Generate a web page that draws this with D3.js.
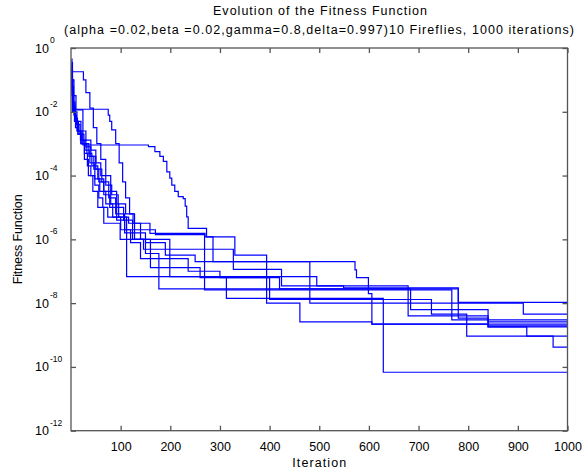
<!DOCTYPE html>
<html><head><meta charset="utf-8">
<script src="https://cdn.jsdelivr.net/npm/d3@7"></script>
<style>
body{margin:0;background:#fff}
text{font-family:"Liberation Sans",Arial,sans-serif;fill:#000}
</style>
</head><body>
<svg id="c" width="582" height="475"></svg>
<script>
// ---- data (iteration, fitness value) ----
const titleLines = ["Evolution of the Fitness Function",
  "(alpha =0.02,beta =0.02,gamma=0.8,delta=0.997)10 Fireflies, 1000 iterations)"];
const xLabel = "Iteration";
const yLabel = "Fitness Function";
const xTicks = [100,200,300,400,500,600,700,800,900,1000];
const yTickExps = [0,-2,-4,-6,-8,-10,-12];

const run1 = [[1,0.35],[3,0.1],[6,3.2e-2],[10,1.15e-2],[24,9.1e-4],[156,8.1e-4],[169,5.6e-4],[179,4.0e-4],[186,2.8e-4],[193,1.3e-4],[199,8.3e-5],[203,5.0e-5],[209,3.2e-5],[216,2.2e-5],[226,1.9e-5],[230,1.1e-5],[233,5.1e-6],[236,2.2e-6],[273,1.2e-6],[330,3.2e-7],[394,1.0e-8],[461,2.6e-9],[606,2.2e-9],[1000,2.2e-9]];
const run2 = [[1,0.13],[3,1.2e-2],[75,7.9e-3],[78,5.0e-3],[82,2.7e-3],[90,1.0e-3],[97,2.5e-4],[104,6.3e-5],[110,2.0e-5],[118,6.3e-6],[128,2.0e-6],[140,1.0e-6],[150,3.6e-7],[177,2.8e-8],[780,1.05e-8],[1000,1.05e-8]];
const run3 = [[1,0.25],[2,6.3e-2],[5,1.0e-2],[9,3.2e-3],[14,2.0e-3],[20,1.0e-3],[27,5.0e-4],[33,2.0e-4],[40,1.0e-4],[48,5.0e-5],[56,2.0e-5],[64,1.0e-5],[74,5.0e-6],[112,6.8e-8],[313,1.4e-8],[629,6.8e-11],[1000,6.8e-11]];
const run4 = [[1,0.1],[2,3.2e-2],[6,1.0e-2],[12,5.0e-3],[20,2.5e-3],[30,1.3e-3],[40,6.3e-4],[50,2.5e-4],[60,1.0e-4],[70,5.0e-5],[82,2.5e-5],[95,1.3e-5],[110,6.3e-6],[125,3.2e-6],[159,1.55e-6],[270,1.2e-6],[286,2.0e-7],[572,1.1e-7],[575,6.3e-8],[599,2.0e-8],[606,2.2e-9],[840,1.95e-9],[1000,1.95e-9]];
const run5 = [[1,0.45],[2,0.1],[4,2.0e-2],[8,6.3e-3],[13,2.5e-3],[20,1.0e-3],[27,3.2e-4],[35,1.0e-4],[44,3.2e-5],[54,1.0e-5],[66,3.2e-6],[99,1.0e-6],[199,6.8e-8],[495,3.5e-8],[549,3.0e-8],[780,3.4e-9],[840,1.8e-9],[1000,1.8e-9]];
const run6 = [[1,6.3e-2],[3,2.0e-2],[6,7.9e-3],[11,4.0e-3],[18,2.0e-3],[26,1.0e-3],[36,4.0e-4],[46,1.6e-4],[56,6.3e-5],[66,2.5e-5],[78,1.0e-5],[92,4.0e-6],[108,1.6e-6],[150,7.9e-7],[190,3.2e-7],[250,2.0e-7],[481,1.0e-8],[911,4.5e-9],[1000,4.5e-9]];
const run7 = [[1,0.16],[2,4.0e-2],[5,1.3e-2],[9,5.0e-3],[15,2.5e-3],[22,1.3e-3],[30,7.9e-4],[40,4.0e-4],[50,1.6e-4],[62,6.3e-5],[76,2.0e-5],[90,6.3e-6],[108,2.0e-6],[128,1.0e-6],[146,4.9e-7],[327,1.15e-7],[424,3.5e-8],[679,4.0e-9],[840,2.6e-9],[1000,2.6e-9]];
const run8 = [[1,0.32],[2,5.0e-2],[4,1.6e-2],[8,5.0e-3],[14,2.0e-3],[22,1.0e-3],[32,5.0e-4],[42,2.0e-4],[54,7.9e-5],[66,3.2e-5],[80,1.3e-5],[96,5.0e-6],[116,3.2e-6],[140,2.0e-6],[170,1.4e-6],[269,2.6e-8],[767,3.0e-9],[1000,3.0e-9]];
const run9 = [[1,3.2e-2],[3,1.0e-2],[7,5.0e-3],[12,2.5e-3],[19,1.3e-3],[28,6.3e-4],[38,2.5e-4],[48,7.9e-5],[58,3.2e-5],[70,1.3e-5],[84,5.0e-6],[100,2.0e-6],[120,7.9e-7],[140,2.5e-7],[236,1.0e-7],[300,6.3e-8],[400,1.3e-8],[726,4.5e-9],[797,9.3e-10],[971,4.2e-10],[1000,4.2e-10]];
const run10 = [[1,0.2],[3,0.18],[25,0.1],[30,4.0e-2],[38,1.3e-2],[45,3.2e-3],[52,1.0e-3],[60,3.2e-4],[70,1.0e-4],[80,3.2e-5],[92,1.0e-5],[106,4.0e-6],[124,1.0e-6],[160,1.3e-7],[260,6.3e-8],[420,2.8e-8],[684,6.3e-9],[840,1.8e-9],[918,9.3e-10],[1000,9.3e-10]];
const runs = [run1,run2,run3,run4,run5,run6,run7,run8,run9,run10];

// ---- layout ----
const L = 71, R = 567.5, T = 48, B = 430.7;
const svg = d3.select("#c");
const x = d3.scaleLinear().domain([0,1000]).range([L,R]);
const y = d3.scaleLog().domain([1e-12,1]).range([B,T]);
const axisCol = "#555";

// lines
const line = d3.line().x(d=>x(d[0])).y(d=>y(d[1])).curve(d3.curveStepAfter);
svg.append("g").selectAll("path").data(runs).join("path")
  .attr("d", line).attr("fill","none").attr("stroke","#0000ff").attr("stroke-width",1.2);

// box
svg.append("rect").attr("x",L).attr("y",T).attr("width",R-L).attr("height",B-T)
  .attr("fill","none").attr("stroke",axisCol).attr("stroke-width",1.3);

// x axis (bottom, inward ticks) + mirrored top ticks
const xAxis = d3.axisBottom(x).tickValues(xTicks).tickSize(-5).tickPadding(11).tickFormat(d3.format("d"));
const gx = svg.append("g").attr("transform",`translate(0,${B})`).call(xAxis);
gx.select(".domain").remove();
gx.selectAll("line").attr("stroke",axisCol).attr("stroke-width",1.3);
gx.selectAll("text").attr("font-size",12.5).attr("font-family","Liberation Sans, Arial, sans-serif");
const gxt = svg.append("g").attr("transform",`translate(0,${T})`)
  .call(d3.axisTop(x).tickValues(xTicks).tickSize(-5).tickFormat(""));
gxt.select(".domain").remove();
gxt.selectAll("line").attr("stroke",axisCol).attr("stroke-width",1.3);

// y axis ticks left/right
const yVals = yTickExps.map(e=>Math.pow(10,e));
const gy = svg.append("g").attr("transform",`translate(${L},0)`)
  .call(d3.axisLeft(y).tickValues(yVals).tickSize(-5).tickFormat(""));
gy.select(".domain").remove();
gy.selectAll("line").attr("stroke",axisCol).attr("stroke-width",1.3);
const gyr = svg.append("g").attr("transform",`translate(${R},0)`)
  .call(d3.axisRight(y).tickValues(yVals).tickSize(-5).tickFormat(""));
gyr.select(".domain").remove();
gyr.selectAll("line").attr("stroke",axisCol).attr("stroke-width",1.3);

// y tick labels 10^e
const yl = svg.append("g").selectAll("g").data(yTickExps).join("g");
yl.append("text").attr("x",49).attr("y",e=>y(Math.pow(10,e))+4.5)
  .attr("text-anchor","end").attr("font-size",12.5).text("10");
yl.append("text").attr("x",50).attr("y",e=>y(Math.pow(10,e))-5)
  .attr("text-anchor","start").attr("font-size",8.5).text(e=>String(e));

// titles and labels
svg.append("text").attr("x",320).attr("y",15).attr("text-anchor","middle")
  .attr("font-size",12.5).attr("textLength",214).attr("lengthAdjust","spacing").text(titleLines[0]);
svg.append("text").attr("x",319).attr("y",34).attr("text-anchor","middle")
  .attr("font-size",12.5).attr("textLength",510).attr("lengthAdjust","spacing").text(titleLines[1]);
svg.append("text").attr("x",(L+R)/2).attr("y",467).attr("text-anchor","middle")
  .attr("font-size",12.5).attr("textLength",54).attr("lengthAdjust","spacing").text(xLabel);
svg.append("text").attr("transform",`translate(22,${(T+B)/2}) rotate(-90)`)
  .attr("text-anchor","middle").attr("font-size",12.5).attr("textLength",90).attr("lengthAdjust","spacing").text(yLabel);
</script>
</body></html>
